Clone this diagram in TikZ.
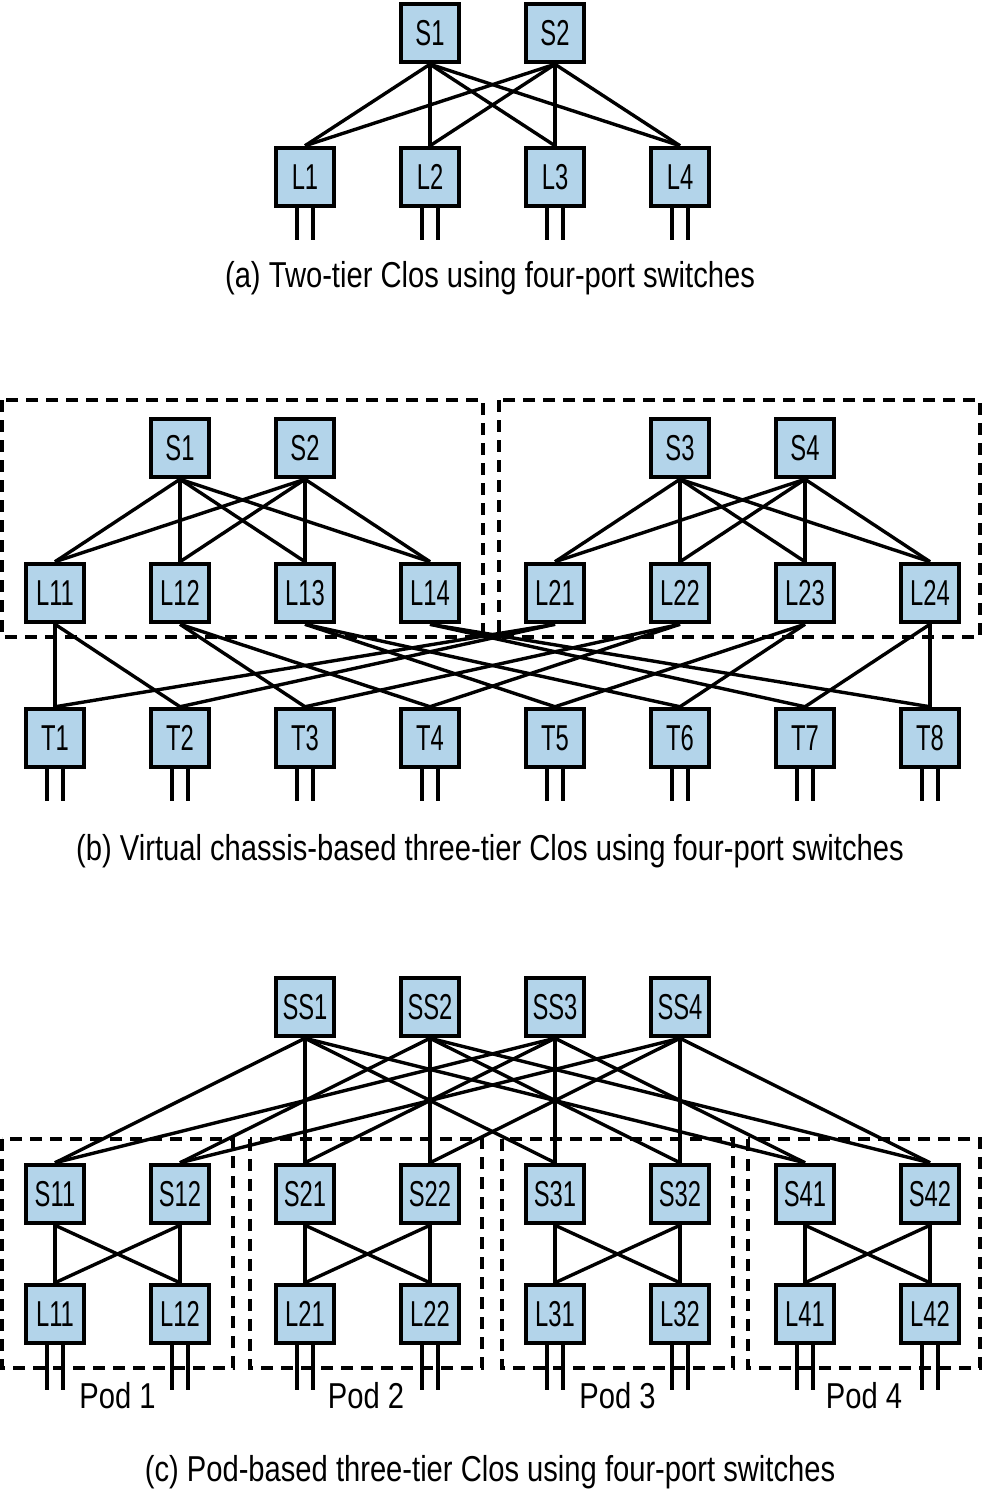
\documentclass[tikz,border=0pt]{standalone}
\usepackage{fontspec}
\setmainfont{Liberation Sans}[FakeStretch=0.81]
\newfontfamily\swfont{Liberation Sans}[FakeStretch=0.66]
\usetikzlibrary{positioning}
\definecolor{swblue}{RGB}{179,212,234}

\begin{document}
\begin{tikzpicture}[x=1pt, y=-1pt,
  switch/.style={draw, line width=4.5pt, fill=swblue, minimum width=58pt,
    minimum height=58pt, inner sep=0pt, font=\swfont\fontsize{36}{40}\selectfont},
  link/.style={line width=3.4pt},
  port/.style={line width=3.4pt},
  group/.style={draw, line width=3.5pt, dash pattern=on 12pt off 8pt},
  caption/.style={anchor=base, font=\fontsize{36}{40}\selectfont}]
  \useasboundingbox (0,0) rectangle (982,1489);

  %% (a) two-tier
  \foreach \n/\x in {1/430, 2/555}
    \node[switch] (aS\n) at (\x,33) {S\n};
  \foreach \n/\x in {1/305, 2/430, 3/555, 4/680}{
    \node[switch] (aL\n) at (\x,177) {L\n};
    \draw[port] ([xshift=-8pt]aL\n.south) -- ++(0,32);
    \draw[port] ([xshift=8pt]aL\n.south) -- ++(0,32);
  }
  \foreach \s in {1,2}
    \foreach \l in {1,...,4}
      \draw[link] (aS\s.south) -- (aL\l.north);
  \node[caption] (capA) at (490,287) {(a) Two-tier Clos using four-port switches};

  %% (b) virtual chassis
  \draw[group] (2,400) rectangle (483,637);
  \draw[group] (499,400) rectangle (980,637);
  \foreach \n/\x in {1/180, 2/305, 3/680, 4/805}
    \node[switch] (bS\n) at (\x,448) {S\n};
  \foreach \c/\o in {1/0, 2/500}
    \foreach \n in {1,...,4}
      \node[switch] (bL\c\n) at ({\o+55+125*(\n-1)},593) {L\c\n};
  \foreach \n in {1,...,8}{
    \node[switch] (bT\n) at ({55+125*(\n-1)},738) {T\n};
    \draw[port] ([xshift=-8pt]bT\n.south) -- ++(0,32);
    \draw[port] ([xshift=8pt]bT\n.south) -- ++(0,32);
  }
  \foreach \s in {1,2}
    \foreach \l in {1,...,4}{
      \draw[link] (bS\s.south) -- (bL1\l.north);
    }
  \foreach \s in {3,4}
    \foreach \l in {1,...,4}{
      \draw[link] (bS\s.south) -- (bL2\l.north);
    }
  \foreach \l/\ta/\tb in {1/1/2, 2/3/4, 3/5/6, 4/7/8}
    \foreach \c in {1,2}{
      \draw[link] (bL\c\l.south) -- (bT\ta.north);
      \draw[link] (bL\c\l.south) -- (bT\tb.north);
    }
  \node[caption] (capB) at (490,860) {(b) Virtual chassis-based three-tier Clos using four-port switches};

  %% (c) pod-based
  \foreach \p/\xa/\xb in {1/2/233, 2/250/482, 3/502/733, 4/748/980}{
    \draw[group] (\xa,1139) rectangle (\xb,1368);
    \node[caption] (pod\p) at ({(\xa+\xb)/2},1408) {Pod \p};
  }
  \foreach \n/\x in {1/305, 2/430, 3/555, 4/680}
    \node[switch] (SS\n) at (\x,1007) {SS\n};
  \foreach \p in {1,...,4}
    \foreach \k in {1,2}{
      \node[switch] (cS\p\k) at ({55+250*(\p-1)+125*(\k-1)},1194) {S\p\k};
      \node[switch] (cL\p\k) at ({55+250*(\p-1)+125*(\k-1)},1314) {L\p\k};
      \draw[port] ([xshift=-8pt]cL\p\k.south) -- ++(0,45);
      \draw[port] ([xshift=8pt]cL\p\k.south) -- ++(0,45);
    }
  \foreach \p in {1,...,4}{
    \draw[link] (SS1.south) -- (cS\p1.north);
    \draw[link] (SS3.south) -- (cS\p1.north);
    \draw[link] (SS2.south) -- (cS\p2.north);
    \draw[link] (SS4.south) -- (cS\p2.north);
    \foreach \a in {1,2}
      \foreach \b in {1,2}
        \draw[link] (cS\p\a.south) -- (cL\p\b.north);
  }
  \node[caption] (capC) at (490,1481) {(c) Pod-based three-tier Clos using four-port switches};
\end{tikzpicture}
\end{document}
